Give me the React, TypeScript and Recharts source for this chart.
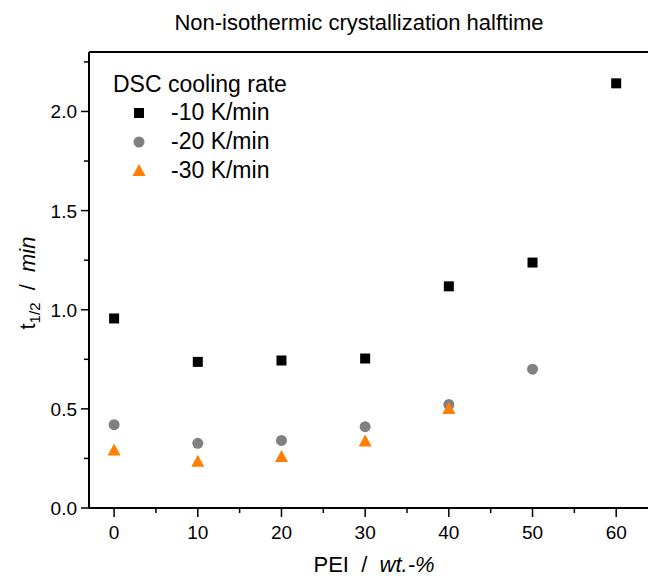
import React from 'react';
import { ScatterChart, Scatter, XAxis, YAxis, ReferenceLine } from 'recharts';

const peiValues = [0, 10, 20, 30, 40, 50, 60];
const rate10 = [0.956, 0.737, 0.744, 0.754, 1.118, 1.238, 2.142];
const rate20 = [0.42, 0.326, 0.341, 0.41, 0.522, 0.7];
const rate30 = [0.29, 0.233, 0.257, 0.336, 0.499];
const seriesNames = ['-10 K/min', '-20 K/min', '-30 K/min'];
const xTicks = [0, 5, 10, 15, 20, 25, 30, 35, 40, 45, 50, 55, 60];
const yTicks = [0, 0.25, 0.5, 0.75, 1, 1.25, 1.5, 1.75, 2, 2.25];
const xMajor = [0, 10, 20, 30, 40, 50, 60];
const yMajor = [0, 0.5, 1, 1.5, 2];

const FONT = 'Arial, "Liberation Sans", sans-serif';
const COLORS = ['#000000', '#808080', '#ff7f00'];

const toPoints = (vals: number[]) => vals.map((v, i) => ({ x: peiValues[i], y: v }));
const data10 = toPoints(rate10);
const data20 = toPoints(rate20);
const data30 = toPoints(rate30);

const Square = (p: any) => <rect x={p.cx - 5} y={p.cy - 5} width={10} height={10} fill={COLORS[0]} />;
const Circle = (p: any) => <circle cx={p.cx} cy={p.cy} r={5.5} fill={COLORS[1]} />;
const Triangle = (p: any) => (
  <path d={`M${p.cx},${p.cy - 7} L${p.cx + 6.5},${p.cy + 5} L${p.cx - 6.5},${p.cy + 5} Z`} fill={COLORS[2]} />
);

const XTick = (props: any) => {
  const { x, y, payload } = props;
  const major = xMajor.includes(payload.value);
  return (
    <g>
      <line x1={x} y1={y} x2={x} y2={y + (major ? 9 : 5)} stroke="#000" strokeWidth={1.5} />
      {major && (
        <text x={x} y={y + 31} textAnchor="middle" fontSize={19} fontFamily={FONT} fill="#000">
          {payload.value}
        </text>
      )}
    </g>
  );
};

const YTick = (props: any) => {
  const { x, y, payload } = props;
  const major = yMajor.includes(payload.value);
  return (
    <g>
      <line x1={x - (major ? 8 : 5)} y1={y} x2={x} y2={y} stroke="#000" strokeWidth={1.5} />
      {major && (
        <text x={x - 12} y={y + 7} textAnchor="end" fontSize={19} fontFamily={FONT} fill="#000">
          {payload.value.toFixed(1)}
        </text>
      )}
    </g>
  );
};

const XLabel = () => (
  <text x={374} y={572} textAnchor="middle" fontSize={22} fontFamily={FONT} fill="#000" style={{ whiteSpace: 'pre' }}>
    <tspan>PEI  /  </tspan>
    <tspan fontStyle="italic">wt.-%</tspan>
  </text>
);

const YLabel = () => (
  <text
    x={0}
    y={0}
    transform="translate(35,283) rotate(-90)"
    textAnchor="middle"
    fontSize={22}
    fontFamily={FONT}
    fill="#000"
    style={{ whiteSpace: 'pre' }}
  >
    <tspan>t</tspan>
    <tspan fontSize={15} dy={5}>1/2</tspan>
    <tspan dy={-5}>  /  </tspan>
    <tspan fontStyle="italic">min</tspan>
  </text>
);

const LegendBox = () => {
  const markers = [
    <rect key="s" x={21} y={7} width={10} height={10} fill={COLORS[0]} />,
    <circle key="c" cx={26} cy={12} r={5.5} fill={COLORS[1]} />,
    <path key="t" d="M26,5 L32.5,17 L19.5,17 Z" fill={COLORS[2]} />,
  ];
  return (
    <div style={{ position: 'absolute', left: 113, top: 71, fontFamily: FONT, color: '#000' }}>
      <div style={{ fontSize: 23, lineHeight: '26px', marginBottom: 1 }}>DSC cooling rate</div>
      {seriesNames.map((n, i) => (
        <div key={n} style={{ display: 'flex', alignItems: 'center', height: 29 }}>
          <svg width={58} height={24}>{markers[i]}</svg>
          <span style={{ fontSize: 23 }}>{n}</span>
        </div>
      ))}
    </div>
  );
};

export default function App() {
  return (
    <div style={{ position: 'absolute', left: 0, top: 0, width: 648, height: 580, background: '#fff' }}>
      <div
        style={{
          position: 'absolute',
          left: 0,
          width: 648,
          top: 10,
          textAlign: 'center',
          paddingLeft: 70,
          boxSizing: 'border-box',
          fontFamily: FONT,
          fontSize: 22,
          color: '#000',
        }}
      >
        Non-isothermic crystallization halftime
      </div>
      <ScatterChart width={648} height={580} margin={{ top: 52, right: 0, bottom: 32, left: 0 }}>
        <XAxis
          type="number"
          dataKey="x"
          domain={[-3, 63.8]}
          ticks={xTicks}
          interval={0}
          tickLine={false}
          tickSize={0}
          tickMargin={0}
          tick={<XTick />}
          axisLine={{ stroke: '#000', strokeWidth: 2 }}
          height={40}
          allowDataOverflow
        />
        <YAxis
          type="number"
          dataKey="y"
          domain={[0, 2.3]}
          ticks={yTicks}
          interval={0}
          tickLine={false}
          tickSize={0}
          tickMargin={0}
          tick={<YTick />}
          axisLine={{ stroke: '#000', strokeWidth: 2 }}
          width={89}
          allowDataOverflow
        />
        <ReferenceLine y={2.3} stroke="#000" strokeWidth={2} />
        <Scatter name={seriesNames[0]} data={data10} shape={Square} isAnimationActive={false} />
        <Scatter name={seriesNames[1]} data={data20} shape={Circle} isAnimationActive={false} />
        <Scatter name={seriesNames[2]} data={data30} shape={Triangle} isAnimationActive={false} />
        <XLabel />
        <YLabel />
      </ScatterChart>
      <LegendBox />
    </div>
  );
}
